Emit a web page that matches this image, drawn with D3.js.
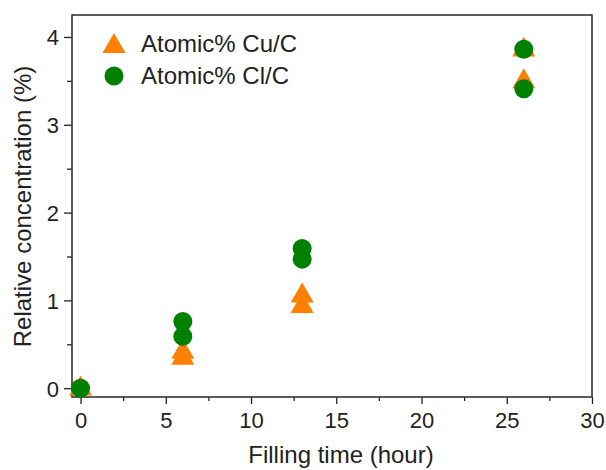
<!DOCTYPE html>
<html>
<head>
<meta charset="utf-8">
<script src="https://cdn.jsdelivr.net/npm/d3@7"></script>
<style>
  body { margin: 0; background: #fff; }
  svg text { font-family: 'Liberation Sans', Arial, sans-serif; fill: #222; }
</style>
</head>
<body>
<svg id="chart" width="606" height="470"></svg>
<script>
// filling time (hour) for each measurement
const cuHours = [0, 6, 6, 13, 13, 26, 26];
const cuValues = [0.03, 0.38, 0.45, 0.97, 1.09, 3.53, 3.89];
const clHours = [0, 6, 6, 13, 13, 26, 26];
const clValues = [0.0, 0.59, 0.76, 1.47, 1.59, 3.41, 3.86];

const seriesNames = ['Atomic% Cu/C', 'Atomic% Cl/C'];
const xTicks = [0, 5, 10, 15, 20, 25, 30];
const yTicks = [0, 1, 2, 3, 4];

const frame = { left: 72, top: 15, right: 592, bottom: 397 };
const orange = '#ff7f00';
const green = '#008000';

const svg = d3.select('#chart');

const x = d3.scaleLinear().domain([-0.5, 30]).range([frame.left, frame.right]);
const y = d3.scaleLinear().domain([-0.1, 4.25]).range([frame.bottom, frame.top]);

// triangle centred on its bounding box
const triangle = (s) => {
  const h = s * Math.sqrt(3) / 2;
  return `M0,${-h / 2}L${s / 2},${h / 2}L${-s / 2},${h / 2}Z`;
};

// minor ticks first (half steps), then major with labels
const xMinor = d3.range(2.5, 30, 5);
const yMinor = d3.range(0.5, 4, 1);

svg.append('g')
  .attr('transform', `translate(0,${frame.bottom})`)
  .call(d3.axisBottom(x).tickValues(xMinor).tickSize(4).tickFormat(''))
  .call(g => g.select('.domain').remove());

svg.append('g')
  .attr('transform', `translate(${frame.left},0)`)
  .call(d3.axisLeft(y).tickValues(yMinor).tickSize(5).tickFormat(''))
  .call(g => g.select('.domain').remove());

const xAxis = svg.append('g')
  .attr('transform', `translate(0,${frame.bottom})`)
  .call(d3.axisBottom(x).tickValues(xTicks).tickFormat(d3.format('d')).tickSize(7).tickPadding(8))
  .call(g => g.select('.domain').remove());

const yAxis = svg.append('g')
  .attr('transform', `translate(${frame.left},0)`)
  .call(d3.axisLeft(y).tickValues(yTicks).tickFormat(d3.format('d')).tickSize(8).tickPadding(5))
  .call(g => g.select('.domain').remove());

[xAxis, yAxis].forEach(a => {
  a.selectAll('text').style('font-size', '22px').attr('fill', '#222');
});
yAxis.selectAll('text').attr('dy', '0.36em');
svg.selectAll('g line').attr('stroke', '#222').attr('stroke-width', 1.3);

// frame
svg.append('rect')
  .attr('x', frame.left)
  .attr('y', frame.top)
  .attr('width', frame.right - frame.left)
  .attr('height', frame.bottom - frame.top)
  .attr('fill', 'none')
  .attr('stroke', '#333')
  .attr('stroke-width', 1.6);

// Cu/C triangles
svg.append('g')
  .selectAll('path')
  .data(cuHours.map((h, i) => [h, cuValues[i]]))
  .enter()
  .append('path')
  .attr('d', triangle(23))
  .attr('transform', d => `translate(${x(d[0])},${y(d[1])})`)
  .attr('fill', orange);

// Cl/C circles
svg.append('g')
  .selectAll('circle')
  .data(clHours.map((h, i) => [h, clValues[i]]))
  .enter()
  .append('circle')
  .attr('cx', d => x(d[0]))
  .attr('cy', d => y(d[1]))
  .attr('r', 9.5)
  .attr('fill', green);

// legend
const legend = svg.append('g');
legend.append('path')
  .attr('d', triangle(23))
  .attr('transform', 'translate(114,43)')
  .attr('fill', orange);
legend.append('circle')
  .attr('cx', 114)
  .attr('cy', 76)
  .attr('r', 9.5)
  .attr('fill', green);
legend.selectAll('text')
  .data(seriesNames)
  .enter()
  .append('text')
  .attr('x', 141)
  .attr('y', (d, i) => 52 + i * 32)
  .style('font-size', '24px')
  .text(d => d);

// axis titles
svg.append('text')
  .attr('x', (frame.left + frame.right) / 2 + 9)
  .attr('y', 463)
  .attr('text-anchor', 'middle')
  .style('font-size', '24px')
  .text('Filling time (hour)');

svg.append('text')
  .attr('transform', `translate(31,${(63 + 350) / 2}) rotate(-90)`)
  .attr('text-anchor', 'middle')
  .style('font-size', '24px')
  .text('Relative concentration (%)');
</script>
</body>
</html>
